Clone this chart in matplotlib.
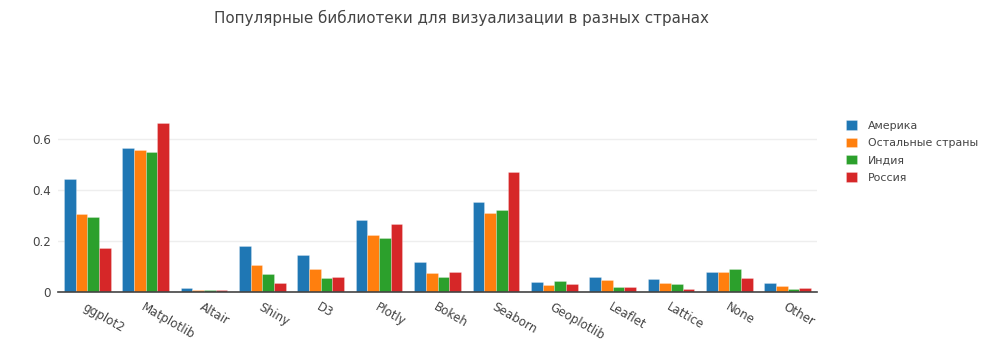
import matplotlib
matplotlib.use("Agg")
import matplotlib.pyplot as plt
import numpy as np

plt.rcParams['font.family'] = ['DejaVu Sans']

title = "Популярные библиотеки для визуализации в разных странах"
categories = ["ggplot2", "Matplotlib", "Altair", "Shiny", "D3", "Plotly", "Bokeh",
              "Seaborn", "Geoplotlib", "Leaflet", "Lattice", "None", "Other"]
series_names = ["Америка", "Остальные страны", "Индия", "Россия"]
america = [0.444, 0.565, 0.016, 0.181, 0.144, 0.283, 0.116, 0.351, 0.040, 0.058, 0.051, 0.077, 0.034]
others = [0.304, 0.557, 0.008, 0.105, 0.090, 0.223, 0.075, 0.309, 0.027, 0.047, 0.035, 0.079, 0.025]
india = [0.294, 0.549, 0.008, 0.070, 0.055, 0.212, 0.057, 0.323, 0.042, 0.018, 0.031, 0.092, 0.013]
russia = [0.171, 0.662, 0.008, 0.035, 0.058, 0.266, 0.078, 0.469, 0.031, 0.019, 0.012, 0.053, 0.016]
colors = ["#1f77b4", "#ff7f0e", "#2ca02c", "#d62728"]
yticks = [0, 0.2, 0.4, 0.6]
ytick_labels = ["0", "0.2", "0.4", "0.6"]

W, H = 992, 352
fig = plt.figure(figsize=(W / 100, H / 100), dpi=100)
left, right, bottom, top = 58, 817, 292, 114
ax = fig.add_axes([left / W, 1 - bottom / H, (right - left) / W, (bottom - top) / H])

x = np.arange(len(categories))
bw = 0.2
data = [america, others, india, russia]
for i, (vals, name, c) in enumerate(zip(data, series_names, colors)):
    ax.bar(x + (i - 1.5) * bw, vals, width=bw, color=c, label=name,
           edgecolor=(1, 1, 1, 0.35), linewidth=0.5)

ax.set_xlim(-0.5, len(categories) - 0.5)
ax.set_ylim(0, 0.697)
ax.set_yticks(yticks)
ax.set_yticklabels(ytick_labels)
ax.set_xticks(x)
ax.set_xticklabels(categories, rotation=-30, ha='left', va='top', rotation_mode='anchor')
ax.tick_params(axis='both', length=0, colors='#444444', labelsize=8.6)
ax.tick_params(axis='x', pad=6)
ax.tick_params(axis='y', pad=5)
for s in ['top', 'right', 'left']:
    ax.spines[s].set_visible(False)
ax.spines['bottom'].set_color('#444444')
ax.spines['bottom'].set_linewidth(1.2)
ax.grid(axis='y', color='#eeeeee', linewidth=1)
ax.set_axisbelow(True)

fig.text(462 / W, 1 - 18 / H, title, ha='center', va='center', fontsize=10.9, color='#444444')

leg = fig.legend(loc='upper left', bbox_to_anchor=(842 / W, 1 - 116 / H), frameon=False,
                 fontsize=7.9, handlelength=0.95, handleheight=0.95, handletextpad=1.0,
                 labelspacing=0.62, labelcolor='#444444', borderaxespad=0)

fig.savefig("out.png", dpi=100)
